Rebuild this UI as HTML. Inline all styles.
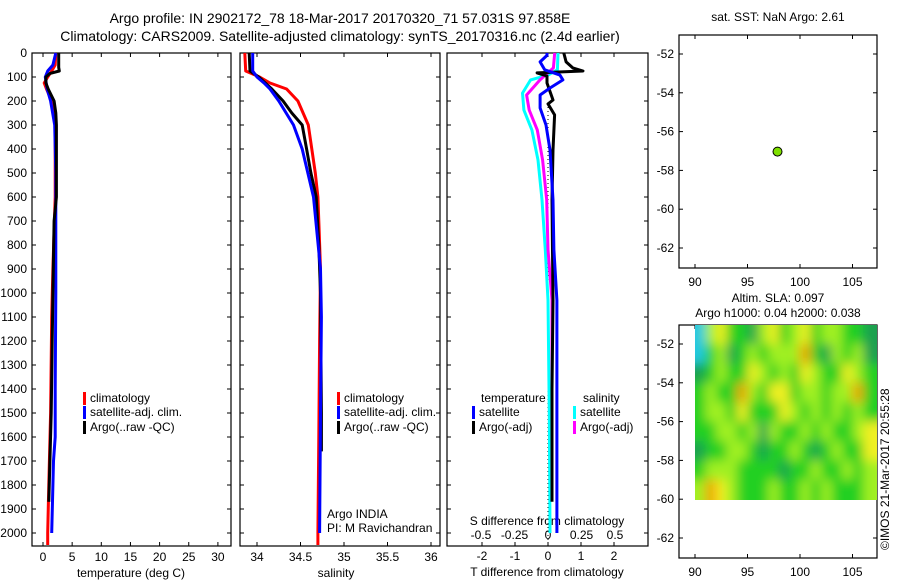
<!DOCTYPE html>
<html><head><meta charset="utf-8"><style>
html,body{margin:0;padding:0;background:#fff;}
svg{display:block;font-family:"Liberation Sans",sans-serif;}
</style></head><body>
<svg id="fig" width="900" height="580" viewBox="0 0 900 580">
<defs>
<filter id="blur" filterUnits="userSpaceOnUse" x="660" y="290" width="260" height="250"><feGaussianBlur stdDeviation="5.5"/></filter>
<clipPath id="slaClip"><rect x="695" y="325" width="182" height="175"/></clipPath>
</defs>
<text x="340" y="23" font-size="14" text-anchor="middle">Argo profile: IN 2902172_78 18-Mar-2017 20170320_71 57.031S 97.858E</text>
<text x="340" y="41" font-size="14" text-anchor="middle">Climatology: CARS2009. Satellite-adjusted climatology: synTS_20170316.nc (2.4d earlier)</text>
<g id="g"></g>
</svg>
<script>
// ---- data ----
const depthTicks=[0,100,200,300,400,500,600,700,800,900,1000,1100,1200,1300,1400,1500,1600,1700,1800,1900,2000];
const tempTicks=[0,5,10,15,20,25,30];
const salTicks=[34,34.5,35,35.5,36];
const tdiffTicks=[-2,-1,0,1,2];
const sdiffTicks=[-0.5,-0.25,0,0.25,0.5];
const sdiffTickLabels=["-0.5","-0.25","0","0.25","0.5"];
const lonTicks=[90,95,100,105];
const latTicks=[-52,-54,-56,-58,-60,-62];

const tClimDepth=[0,50,75,100,125,150,200,300,600,900,1100,1500,1800,2000,2050];
const tClimVal=[2.2,2.1,1.5,0.8,0.2,0.6,1.5,2.1,2.1,1.7,1.5,1.3,1.0,0.8,0.8];
const tSatDepth=[0,50,75,100,150,200,300,500,1000,1400,1600,1700,1900,2000];
const tSatVal=[2.2,1.7,0.8,0.4,0.7,1.3,2.0,2.2,2.2,2.1,2.1,1.8,1.6,1.5];
const tArgoDepth=[0,60,75,85,100,125,150,200,250,300,600,700,1000,1500,1870];
const tArgoVal=[2.7,2.7,2.8,1.2,0.5,0.5,0.9,1.9,2.2,2.3,2.3,1.9,1.7,1.4,1.0];

const sClimDepth=[0,75,100,125,150,200,300,400,500,600,700,900,1200,1600,2000,2050];
const sClimVal=[33.86,33.87,34.03,34.15,34.34,34.47,34.59,34.63,34.67,34.70,34.71,34.73,34.72,34.71,34.70,34.70];
const sSatDepth=[0,75,100,125,150,200,300,400,600,900,1100,1500,2000];
const sSatVal=[33.95,33.95,34.0,34.08,34.15,34.25,34.42,34.52,34.65,34.73,34.74,34.73,34.72];
const sArgoDepth=[0,75,100,150,200,250,300,400,500,600,800,1000,1500,1660];
const sArgoVal=[33.91,33.92,34.02,34.17,34.30,34.40,34.52,34.57,34.62,34.68,34.71,34.73,34.74,34.74];

const dTSatDepth=[0,10,37,70,92,112,146,175,229,300,404,612,820,1030,1400,2000];
const dTSatVal=[-0.03,-0.03,-0.24,-0.1,0.36,0.45,0.06,-0.24,-0.24,-0.06,0.06,0.15,0.18,0.27,0.27,0.27];
const dTArgoDepth=[0,37,62,75,83,96,125,196,212,258,404,612,1030,1400,1870];
const dTArgoVal=[0.48,0.55,0.75,1.06,-0.33,-0.03,-0.03,0.15,0.0,0.2,0.15,0.12,0.15,0.12,0.12];
const dSSatDepth=[0,70,92,112,167,238,321,446,612,820,1030,1500,2000];
const dSSatVal=[0.075,0.07,0.0,-0.13,-0.19,-0.18,-0.12,-0.075,-0.045,-0.02,0.0,0.01,0.015];
const dSArgoDepth=[0,62,112,175,238,321,446,612,820,1030,1400,1660];
const dSArgoVal=[0.05,0.04,-0.06,-0.16,-0.14,-0.08,-0.04,-0.01,0.0,0.03,0.03,0.03];

const argoLon=[97.858];
const argoLat=[-57.031];
const slaLonStart=90, slaLatStart=-51;
const slaGrid=[
[-2,1,2,0,0,-1,1,2,0,1,2,0,1,1,0,0,-1],
[-2,0,1,-1,0,1,0,1,1,1,3,0,-1,1,0,1,-1],
[-1,0,1,0,0,2,1,0,1,0,2,1,0,0,2,1,0],
[0,1,0,0,3,1,0,2,2,0,1,1,0,1,1,3,0],
[0,1,1,0,2,0,0,0,2,1,0,1,0,1,0,1,0],
[0,0,1,1,0,1,-1,1,0,0,1,0,1,0,0,1,2],
[-1,0,0,1,1,0,-1,0,0,1,0,-1,0,1,0,0,2],
[0,1,1,1,0,0,0,0,-1,0,0,1,0,0,1,0,1],
[1,3,2,1,0,0,0,1,0,0,1,0,1,0,0,0,1]];

// ---- axes ----
const NS="http://www.w3.org/2000/svg";
const G=document.getElementById('g');
function el(tag,attrs,parent){const e=document.createElementNS(NS,tag);for(const k in attrs)e.setAttribute(k,attrs[k]);(parent||G).appendChild(e);return e;}
const yD=d=>53+0.24*d;
const xT=t=>43+5.83*t;
const xS=s=>257+87*(s-34);
const xdT=t=>548+33*t;
const xdS=s=>548+134*s;
const BOT=546;
function txt(x,y,s,anchor,size,name){const t=el('text',{x:x,y:y,'font-size':size||12,'text-anchor':anchor||'middle'});t.textContent=s;

return t;}

function panel(x0,x1,name){const r=el('rect',{x:x0,y:53,width:x1-x0,height:BOT-53,fill:'none',stroke:'#000','stroke-width':1.2});

}
panel(32,231,'temperature-panel-frame');panel(240,440,'salinity-panel-frame');panel(447,648,'difference-panel-frame');

depthTicks.forEach(d=>{const y=yD(d);
 [[32,231],[240,440],[447,648]].forEach(p=>{el('line',{x1:p[0],y1:y,x2:p[0]+4,y2:y,stroke:'#000'});el('line',{x1:p[1],y1:y,x2:p[1]-4,y2:y,stroke:'#000'});});
 txt(27,y+4,String(d),'end',12,'depth-tick-label');});
tempTicks.forEach(t=>{const x=xT(t);el('line',{x1:x,y1:BOT,x2:x,y2:BOT-4,stroke:'#000'});el('line',{x1:x,y1:53,x2:x,y2:57,stroke:'#000'});txt(x,561,String(t),'middle',12,'temperature-tick-label');});
salTicks.forEach(t=>{const x=xS(t);el('line',{x1:x,y1:BOT,x2:x,y2:BOT-4,stroke:'#000'});el('line',{x1:x,y1:53,x2:x,y2:57,stroke:'#000'});txt(x,561,String(t),'middle',12,'salinity-tick-label');});
tdiffTicks.forEach(t=>{const x=xdT(t);el('line',{x1:x,y1:BOT,x2:x,y2:BOT-4,stroke:'#000'});el('line',{x1:x,y1:53,x2:x,y2:57,stroke:'#000'});txt(x,560,String(t),'middle',12,'t-diff-tick-label');});
sdiffTicks.forEach((t,i)=>{txt(xdS(t),539,sdiffTickLabels[i],'middle',12,'s-diff-tick-label');});
txt(131,577,'temperature (deg C)','middle',12,'temperature-axis-title');
txt(336,577,'salinity','middle',12,'salinity-axis-title');
txt(547,576,'T difference from climatology','middle',12,'t-diff-axis-title');
txt(547,525,'S difference from climatology','middle',12,'s-diff-axis-title');

function line(xs,ds,xf,color,name,w){const pts=ds.map((d,i)=>xf(xs[i]).toFixed(1)+','+yD(d).toFixed(1)).join(' ');
 const p=el('polyline',{points:pts,fill:'none',stroke:color,'stroke-width':w||3,'stroke-linejoin':'round'});
 
 }
line(tClimVal,tClimDepth,xT,'#ff0000','temp-climatology-line');
line(tSatVal,tSatDepth,xT,'#0000ff','temp-satellite-line');
line(tArgoVal,tArgoDepth,xT,'#000000','temp-argo-line');
line(sClimVal,sClimDepth,xS,'#ff0000','sal-climatology-line');
line(sArgoVal,sArgoDepth,xS,'#000000','sal-argo-line');
line(sSatVal,sSatDepth,xS,'#0000ff','sal-satellite-line');
el('line',{x1:548,y1:yD(225),x2:548,y2:BOT,stroke:'#000','stroke-dasharray':'1,3'});
line(dSSatVal,dSSatDepth,xdS,'#00ffff','s-diff-satellite-line');
line(dSArgoVal,dSArgoDepth,xdS,'#ff00ff','s-diff-argo-line');
line(dTArgoVal,dTArgoDepth,xdT,'#000000','t-diff-argo-line');
line(dTSatVal,dTSatDepth,xdT,'#0000ff','t-diff-satellite-line');

function legend(x,y,color,label,name){const r=el('rect',{x:x,y:y-10,width:3,height:13,fill:color});
 
 
 txt(x+7,y,label,'start',12,name);}
legend(83,402,'#ff0000','climatology','legend-climatology');
legend(83,416,'#0000ff','satellite-adj. clim.','legend-satellite-adj');
legend(83,431,'#000000','Argo(..raw -QC)','legend-argo');
legend(337,402,'#ff0000','climatology','legend-sal-climatology');
legend(337,416,'#0000ff','satellite-adj. clim.','legend-sal-satellite-adj');
legend(337,431,'#000000','Argo(..raw -QC)','legend-sal-argo');
txt(481,402,'temperature','start',12,'legend-temperature-heading');
legend(472,416,'#0000ff','satellite','legend-t-satellite');
legend(472,431,'#000000','Argo(-adj)','legend-t-argo');
txt(583,402,'salinity','start',12,'legend-salinity-heading');
legend(573,416,'#00ffff','satellite','legend-s-satellite');
legend(573,431,'#ff00ff','Argo(-adj)','legend-s-argo');
txt(327,518,'Argo INDIA','start',12,'argo-india-label');
txt(327,532,'PI: M Ravichandran','start',12,'pi-label');

// ---- maps ----
const mLon=l=>695+(l-90)*10.5;
function map(top,name){const yL=la=>top+19+(-52-la)*19.4;
 const r=el('rect',{x:679,y:top,width:198,height:233,fill:'none',stroke:'#000','stroke-width':1.2});
 
 
 latTicks.forEach(la=>{const y=yL(la);el('line',{x1:679,y1:y,x2:683,y2:y,stroke:'#000'});el('line',{x1:877,y1:y,x2:873,y2:y,stroke:'#000'});txt(674,y+4,String(la),'end',12,'lat-tick-label');});
 lonTicks.forEach(lo=>{const x=mLon(lo);el('line',{x1:x,y1:top+233,x2:x,y2:top+229,stroke:'#000'});el('line',{x1:x,y1:top,x2:x,y2:top+4,stroke:'#000'});txt(x,top+251,String(lo),'middle',12,'lon-tick-label');});
 return yL;}
const y1=map(35,'sst-map-frame');
txt(778,21,'sat. SST: NaN Argo: 2.61','middle',12,'sst-map-title');
argoLon.forEach((lo,i)=>{const c=el('circle',{cx:mLon(lo),cy:y1(argoLat[i]),r:4.5,fill:'#7fe000',stroke:'#000','stroke-width':1});
 
 });
txt(778,302,'Altim. SLA: 0.097','middle',12,'sla-map-title');
txt(778,317,'Argo h1000: 0.04 h2000: 0.038','middle',12,'sla-map-subtitle');
const y2=map(325,'sla-map-frame');
function col(v){const stops=[[-2,[32,200,224]],[-1,[26,160,80]],[0,[32,208,32]],[1,[160,240,32]],[2,[240,240,32]],[3,[240,160,0]]];
 v=Math.max(-2,Math.min(3,v));for(let i=0;i<stops.length-1;i++){if(v<=stops[i+1][0]){const f=v-stops[i][0];const a=stops[i][1],b=stops[i+1][1];return 'rgb('+a.map((c,k)=>Math.round(c+(b[k]-c)*f)).join(',')+')';}}return 'rgb(240,160,0)';}
const hg=el('g',{'clip-path':'url(#slaClip)'});


const inner=el('g',{filter:'url(#blur)'},hg);
slaGrid.forEach((row,ri)=>row.forEach((v,ci)=>{const x0=mLon(slaLonStart+ci),ya=y2(slaLatStart-ri),yb=y2(slaLatStart-ri-1);
 const ex0=ci===0?x0-15:x0, ex1=ci===row.length-1?mLon(slaLonStart+ci+1)+15:mLon(slaLonStart+ci+1);
 const ey0=ri===0?ya-15:ya, ey1=ri===slaGrid.length-1?yb+15:yb;
 const c=el('rect',{x:ex0,y:ey0,width:ex1-ex0+0.5,height:ey1-ey0+0.5,fill:col(v)},inner);
 
 }));
const cr=txt(0,0,'©IMOS 21-Mar-2017 20:55:28','start',12,'imos-credit');
cr.setAttribute('transform','translate(889,550) rotate(-90)');
</script>
</body></html>
